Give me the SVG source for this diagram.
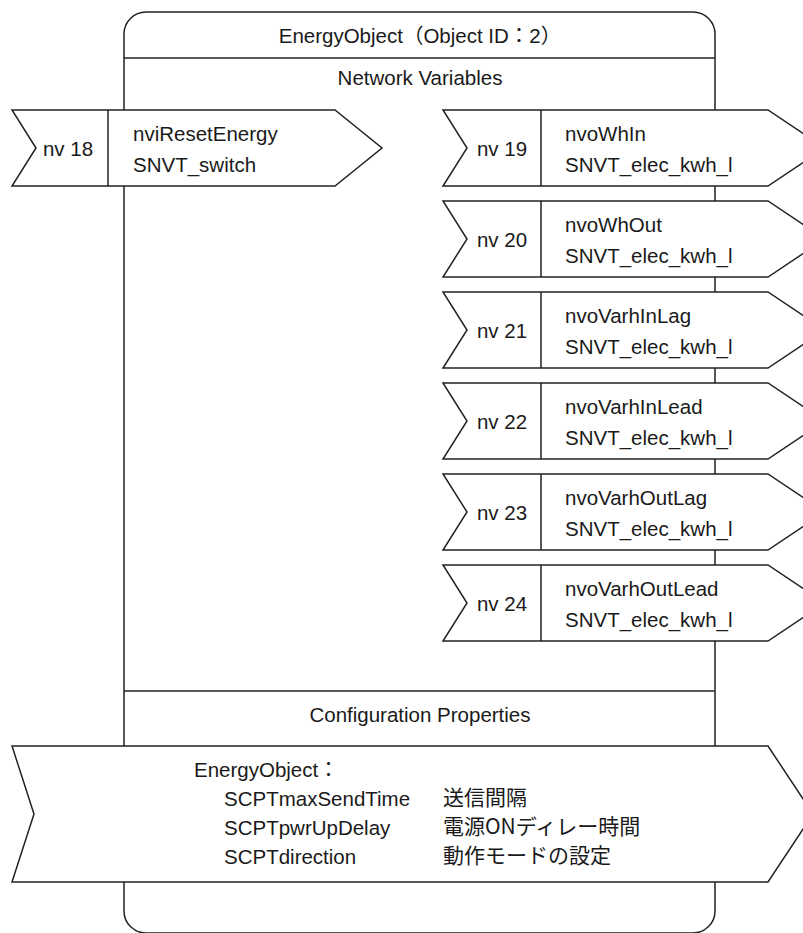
<svg xmlns="http://www.w3.org/2000/svg" width="803" height="933" viewBox="0 0 803 933">
<style>
.ln{fill:#fff;stroke:#222;stroke-width:1.5}
.sep{fill:none;stroke:#222;stroke-width:1.5}
.t{font-family:"Liberation Sans","Noto Sans CJK JP",sans-serif;font-size:20.5px;fill:#1a1a1a}
.j{font-family:"Noto Sans CJK JP",sans-serif;font-size:21px;fill:#1a1a1a}
.c{text-anchor:middle}
</style>
<defs>
<path id="outShape" d="M0,0 L325,0 L382,38 L325,76 L0,76 L24,38 Z"/>
</defs>
<g id="energyObject">
<rect class="ln" x="124" y="12" width="591" height="921" rx="22"/>
<line class="sep" x1="124" y1="58" x2="715" y2="58"/>
<text class="t c" x="420" y="43">EnergyObject（Object ID：2）</text>
<text class="t c" x="420" y="85">Network Variables</text>
<line class="sep" x1="124" y1="691" x2="715" y2="691"/>
<text class="t c" x="420" y="722">Configuration Properties</text>
</g>
<g id="connectors"/>
<g id="nv18">
<path class="ln" d="M12,110 L335,110 L382,148 L335,186 L12,186 L36,148 Z"/>
<line class="sep" x1="108" y1="110" x2="108" y2="186"/>
<text class="t c" x="68" y="156">nv 18</text>
<text class="t" x="133" y="141">nviResetEnergy</text>
<text class="t" x="133" y="172">SNVT_switch</text>
</g>
<g id="nv19" transform="translate(443,110)">
<use href="#outShape" class="ln"/>
<line class="sep" x1="98" y1="0" x2="98" y2="76"/>
<text class="t c" x="59" y="46">nv 19</text>
<text class="t" x="122" y="31">nvoWhIn</text>
<text class="t" x="122" y="62">SNVT_elec_kwh_l</text>
</g>
<g id="nv20" transform="translate(443,201)">
<use href="#outShape" class="ln"/>
<line class="sep" x1="98" y1="0" x2="98" y2="76"/>
<text class="t c" x="59" y="46">nv 20</text>
<text class="t" x="122" y="31">nvoWhOut</text>
<text class="t" x="122" y="62">SNVT_elec_kwh_l</text>
</g>
<g id="nv21" transform="translate(443,292)">
<use href="#outShape" class="ln"/>
<line class="sep" x1="98" y1="0" x2="98" y2="76"/>
<text class="t c" x="59" y="46">nv 21</text>
<text class="t" x="122" y="31">nvoVarhInLag</text>
<text class="t" x="122" y="62">SNVT_elec_kwh_l</text>
</g>
<g id="nv22" transform="translate(443,383)">
<use href="#outShape" class="ln"/>
<line class="sep" x1="98" y1="0" x2="98" y2="76"/>
<text class="t c" x="59" y="46">nv 22</text>
<text class="t" x="122" y="31">nvoVarhInLead</text>
<text class="t" x="122" y="62">SNVT_elec_kwh_l</text>
</g>
<g id="nv23" transform="translate(443,474)">
<use href="#outShape" class="ln"/>
<line class="sep" x1="98" y1="0" x2="98" y2="76"/>
<text class="t c" x="59" y="46">nv 23</text>
<text class="t" x="122" y="31">nvoVarhOutLag</text>
<text class="t" x="122" y="62">SNVT_elec_kwh_l</text>
</g>
<g id="nv24" transform="translate(443,565)">
<use href="#outShape" class="ln"/>
<line class="sep" x1="98" y1="0" x2="98" y2="76"/>
<text class="t c" x="59" y="46">nv 24</text>
<text class="t" x="122" y="31">nvoVarhOutLead</text>
<text class="t" x="122" y="62">SNVT_elec_kwh_l</text>
</g>
<g id="configProperties">
<path class="ln" d="M12,746 L768,746 L813,814 L768,882 L12,882 L34,814 Z"/>
<text class="t" x="194" y="777">EnergyObject：</text>
<text class="t" x="224" y="806">SCPTmaxSendTime</text>
<text class="j" x="443" y="805">送信間隔</text>
<text class="t" x="224" y="835">SCPTpwrUpDelay</text>
<text class="j" x="443" y="834">電源ONディレー時間</text>
<text class="t" x="224" y="864">SCPTdirection</text>
<text class="j" x="443" y="863">動作モードの設定</text>
</g>
</svg>
